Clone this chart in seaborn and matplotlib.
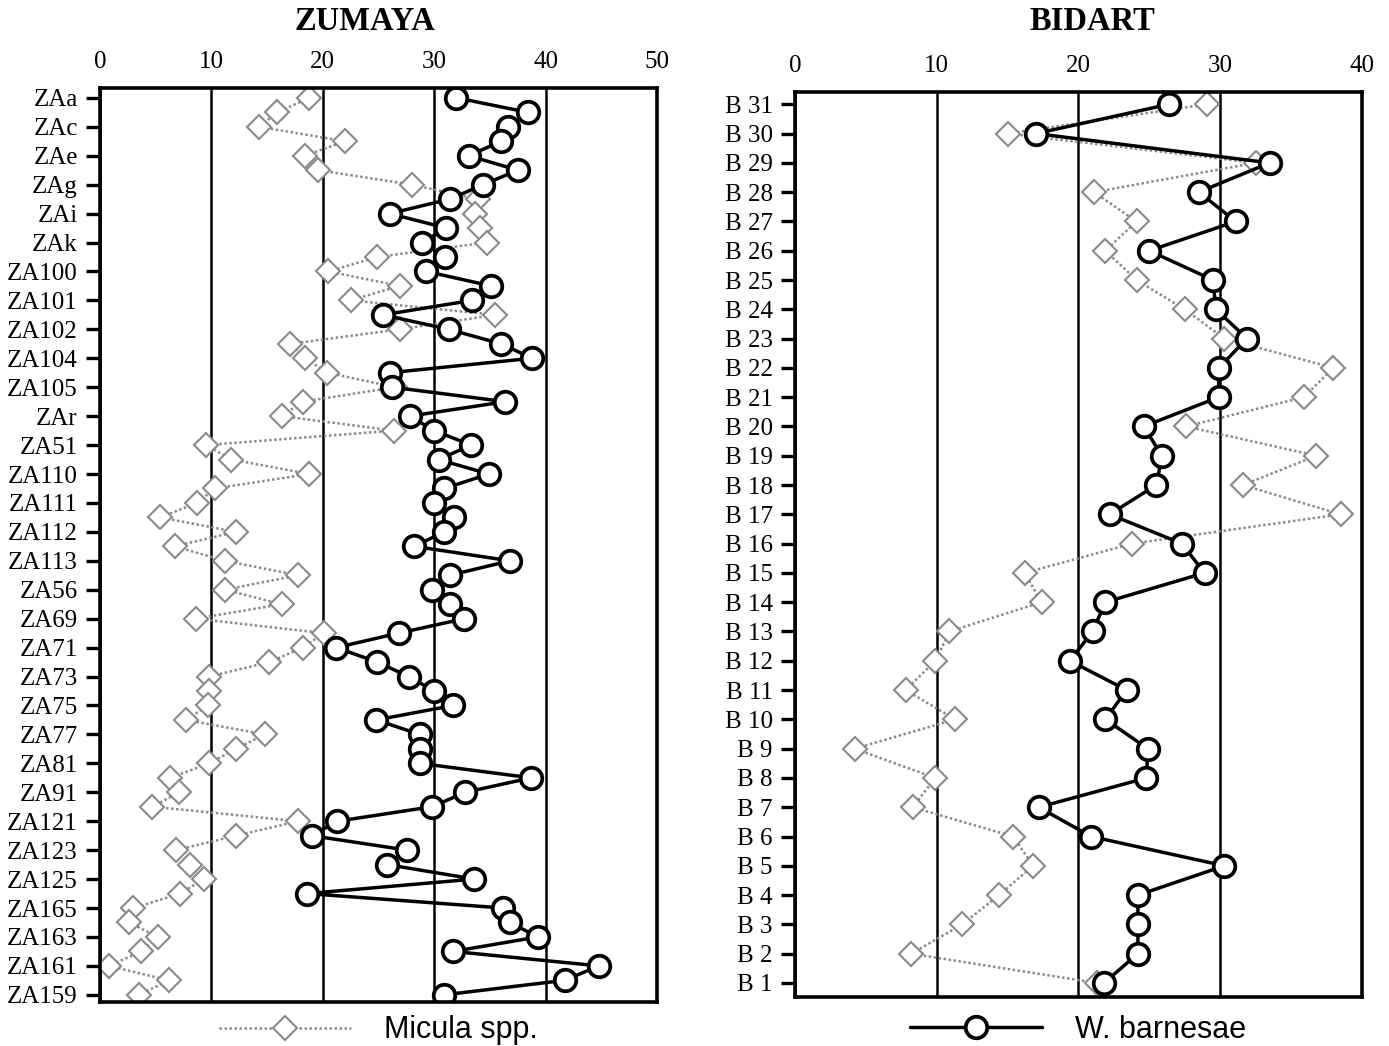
import numpy as np
import pandas as pd
import matplotlib
matplotlib.use("Agg")
import matplotlib.pyplot as plt
import seaborn as sns

# ==============================
# DATA (top of section -> bottom)
# ==============================
zumaya_labels = ["ZAa", "ZAc", "ZAe", "ZAg", "ZAi", "ZAk", "ZA100", "ZA101",
                 "ZA102", "ZA104", "ZA105", "ZAr", "ZA51", "ZA110", "ZA111",
                 "ZA112", "ZA113", "ZA56", "ZA69", "ZA71", "ZA73", "ZA75",
                 "ZA77", "ZA81", "ZA91", "ZA121", "ZA123", "ZA125", "ZA165",
                 "ZA163", "ZA161", "ZA159"]

# one sample between each labelled level
zumaya_micula = [18.8, 15.9, 14.3, 22.0, 18.4, 19.6, 28.0, 33.9, 33.7, 34.1,
                 34.7, 24.9, 20.5, 26.9, 22.5, 35.5, 26.9, 17.1, 18.4, 20.4,
                 26.5, 18.2, 16.3, 26.4, 9.5, 11.8, 18.8, 10.3, 8.7, 5.4,
                 12.2, 6.7, 11.2, 17.8, 11.2, 16.3, 8.6, 20.1, 18.2, 15.2,
                 9.8, 9.8, 9.7, 7.7, 14.8, 12.2, 9.8, 6.3, 7.1, 4.7,
                 17.8, 12.2, 6.8, 8.1, 9.3, 7.2, 3.0, 2.6, 5.2, 3.7,
                 0.8, 6.2, 3.5]

zumaya_barnesae = [32.0, 38.4, 36.6, 36.0, 33.1, 37.5, 34.4, 31.4, 26.0, 31.1,
                   28.9, 31.0, 29.3, 35.1, 33.4, 25.4, 31.3, 36.0, 38.8, 26.0,
                   26.2, 36.4, 27.8, 30.0, 33.3, 30.4, 34.9, 30.9, 30.0, 31.8,
                   30.9, 28.2, 36.8, 31.4, 29.8, 31.4, 32.7, 26.8, 21.2, 24.9,
                   27.7, 30.0, 31.7, 24.8, 28.7, 28.7, 28.7, 38.7, 32.8, 29.8,
                   21.3, 19.0, 27.6, 25.8, 33.6, 18.6, 36.2, 36.8, 39.3, 31.7,
                   44.8, 41.7, 30.9]

bidart_labels = ["B 31", "B 30", "B 29", "B 28", "B 27", "B 26", "B 25", "B 24",
                 "B 23", "B 22", "B 21", "B 20", "B 19", "B 18", "B 17", "B 16",
                 "B 15", "B 14", "B 13", "B 12", "B 11", "B 10", "B 9", "B 8",
                 "B 7", "B 6", "B 5", "B 4", "B 3", "B 2", "B 1"]

bidart_micula = [29.1, 15.0, 32.5, 21.1, 24.1, 21.9, 24.1, 27.5, 30.3, 38.0,
                 35.9, 27.6, 36.8, 31.6, 38.5, 23.8, 16.2, 17.4, 10.9, 9.9,
                 7.8, 11.3, 4.2, 9.9, 8.3, 15.4, 16.8, 14.4, 11.8, 8.2, 21.3]

bidart_barnesae = [26.4, 17.0, 33.5, 28.5, 31.1, 25.0, 29.5, 29.7, 31.9, 29.9,
                   29.9, 24.6, 25.9, 25.5, 22.2, 27.3, 28.9, 21.9, 21.0, 19.4,
                   23.4, 21.9, 24.9, 24.8, 17.2, 20.9, 30.3, 24.2, 24.2, 24.2, 21.8]

# ==============================
# STYLE
# ==============================
sns.set_style("white")
plt.rcParams["font.family"] = ["Liberation Serif", "DejaVu Serif"]
plt.rcParams["text.color"] = "black"
plt.rcParams["xtick.color"] = "black"
plt.rcParams["ytick.color"] = "black"
plt.rcParams["axes.labelcolor"] = "black"

GREY = "#8a8a8a"
SERIF = "Liberation Serif"
SANS = "Liberation Sans"

fig = plt.figure(figsize=(13.89, 10.46), dpi=100)
ax_z = fig.add_axes([0.072, 0.042, 0.401, 0.874])
ax_b = fig.add_axes([0.5724, 0.0468, 0.408, 0.865])


def draw_panel(ax, labels, micula, barnesae, step, xmax, ylim):
    df = pd.DataFrame({"pos": np.arange(len(micula)),
                       "micula": micula,
                       "barnesae": barnesae})

    sns.lineplot(data=df, x="micula", y="pos", orient="y", sort=False,
                 estimator=None, ax=ax, color=GREY, lw=1.8,
                 linestyle=(0, (1, 1)), marker="D", ms=12,
                 markerfacecolor="white", markeredgecolor=GREY,
                 markeredgewidth=1.5)
    sns.lineplot(data=df, x="barnesae", y="pos", orient="y", sort=False,
                 estimator=None, ax=ax, color="black", lw=2.5,
                 marker="o", ms=15.5, markerfacecolor="white",
                 markeredgecolor="black", markeredgewidth=2.7)

    ax.set_xlim(0, xmax)
    ax.set_ylim(*ylim)
    ax.set_xticks(range(0, xmax + 1, 10))
    ax.set_yticks(df["pos"].values[::step])
    ax.set_yticklabels(labels, fontfamily=SERIF, fontsize=18, color="black")
    ax.set_xticklabels([str(v) for v in range(0, xmax + 1, 10)],
                       fontfamily=SERIF, fontsize=18, color="black")
    ax.xaxis.tick_top()
    ax.tick_params(axis="x", length=0, pad=11)
    ax.tick_params(axis="y", left=True, length=10, width=2.4, pad=6)
    ax.set_xlabel("")
    ax.set_ylabel("")

    ax.set_axisbelow(True)
    ax.xaxis.grid(True, color="black", lw=1.8)
    ax.yaxis.grid(False)
    for sp in ax.spines.values():
        sp.set_visible(True)
        sp.set_color("black")
        sp.set_linewidth(2.6)


draw_panel(ax_z, zumaya_labels, zumaya_micula, zumaya_barnesae, 2, 50,
           (62.5, -0.69))
draw_panel(ax_b, bidart_labels, bidart_micula, bidart_barnesae, 1, 40,
           (30.48, -0.41))

# legends: one series under each panel
ax_z.legend(handles=[ax_z.lines[0]], labels=["Micula spp."], loc="center",
            bbox_to_anchor=(0.5, -0.031), frameon=False, handlelength=4.3,
            handletextpad=1.1, prop={"family": SANS, "size": 22})
ax_b.legend(handles=[ax_b.lines[1]], labels=["W. barnesae"], loc="center",
            bbox_to_anchor=(0.5, -0.036), frameon=False, handlelength=4.3,
            handletextpad=1.1, prop={"family": SANS, "size": 22})

fig.text(365 / 1389, 1 - 22 / 1046, "ZUMAYA", ha="center", va="center",
         fontfamily=SERIF, fontweight="bold", fontsize=23.5, color="black")
fig.text(1092 / 1389, 1 - 22 / 1046, "BIDART", ha="center", va="center",
         fontfamily=SERIF, fontweight="bold", fontsize=23.5, color="black")

fig.savefig("out.png", dpi=100)
